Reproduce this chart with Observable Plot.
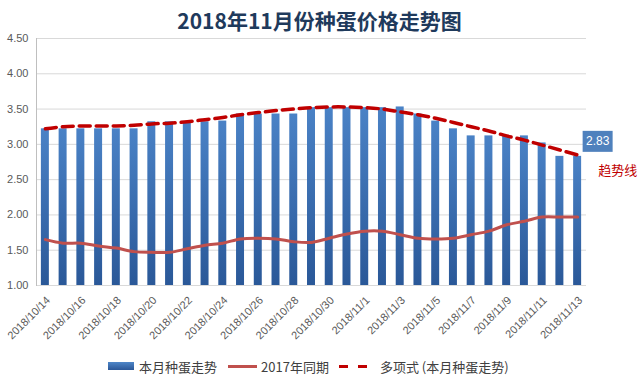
<!DOCTYPE html>
<html>
<head>
<meta charset="utf-8">
<script src="https://cdn.jsdelivr.net/npm/d3@7"></script>
<script src="https://cdn.jsdelivr.net/npm/@observablehq/plot@0.6"></script>
<style>
  body { margin: 0; background: #fff; }
  #wrap { width: 639px; height: 386px; overflow: hidden; position: relative; }
  #title { height: 30px; line-height: 40px; text-align: center; font-family: "Noto Sans CJK SC", sans-serif; font-weight: bold; font-size: 21px; color: #1f3a5c; white-space: nowrap; }
  #chart svg { display: block; }
  #legend { height: 36px; display: flex; align-items: center; padding-left: 108px; font-family: "Noto Sans CJK SC", sans-serif; font-size: 13px; color: #404040; white-space: nowrap; margin-top: -2px; }
  .sw-bar { width: 26px; height: 8px; background: linear-gradient(#4e86c8, #2b5797); margin-right: 5px; }
  .sw-line { width: 29px; height: 3px; background: #c0504d; margin-left: 11px; margin-right: 4px; }
  .sw-dash { width: 28px; height: 3px; margin-left: 10px; margin-right: 13px; background: linear-gradient(to right, #c00000 0 9px, transparent 9px 19px, #c00000 19px 28px); }
</style>
</head>
<body>
<div id="wrap">
  <div id="title">2018年11月份种蛋价格走势图</div>
  <div id="chart"></div>
  <div id="legend">
    <span class="sw-bar"></span><span>本月种蛋走势</span>
    <span class="sw-line"></span><span>2017年同期</span>
    <span class="sw-dash"></span><span>多项式 (本月种蛋走势)</span>
  </div>
</div>
<script>
const dates = [
  "2018/10/14","2018/10/15","2018/10/16","2018/10/17","2018/10/18","2018/10/19","2018/10/20",
  "2018/10/21","2018/10/22","2018/10/23","2018/10/24","2018/10/25","2018/10/26","2018/10/27",
  "2018/10/28","2018/10/29","2018/10/30","2018/10/31","2018/11/1","2018/11/2","2018/11/3",
  "2018/11/4","2018/11/5","2018/11/6","2018/11/7","2018/11/8","2018/11/9","2018/11/10",
  "2018/11/11","2018/11/12","2018/11/13"
];
const price2018 = [
  3.22,3.22,3.22,3.22,3.22,3.22,3.32,
  3.32,3.32,3.32,3.33,3.43,3.43,3.43,
  3.43,3.52,3.52,3.52,3.52,3.52,3.53,
  3.43,3.33,3.22,3.12,3.12,3.12,3.12,
  3.02,2.83,2.83
];
const price2017 = [
  1.65,1.60,1.60,1.56,1.53,1.48,1.47,
  1.47,1.52,1.57,1.60,1.66,1.67,1.66,
  1.62,1.61,1.67,1.73,1.77,1.77,1.72,
  1.67,1.66,1.67,1.72,1.77,1.86,1.91,
  1.97,1.97,1.97
];
const trend = [
  3.22,3.25,3.26,3.26,3.26,3.27,3.29,
  3.30,3.32,3.35,3.38,3.42,3.45,3.48,
  3.50,3.52,3.53,3.53,3.52,3.50,3.46,
  3.42,3.37,3.31,3.25,3.19,3.12,3.06,
  2.99,2.92,2.85
];
const yTicks = [1.00,1.50,2.00,2.50,3.00,3.50,4.00,4.50];
const xTickLabels = dates.filter((d, i) => i % 2 === 0);

const data = dates.map((d, i) => ({date: d, v: price2018[i], v17: price2017[i], t: trend[i]}));
const last = [data[data.length - 1]];

const boxSymbol = { draw(ctx) { ctx.rect(-15, -10.5, 30, 21); } };

const chart = Plot.plot({
  width: 639,
  height: 320,
  marginTop: 8,
  marginLeft: 36,
  marginRight: 53,
  marginBottom: 65,
  style: { fontFamily: "'Liberation Sans', Arial, sans-serif", fontSize: "11px", color: "#595959", background: "transparent" },
  x: { domain: dates, paddingInner: 0.55, paddingOuter: 0.275, round: false, label: null },
  y: { domain: [1, 4.5], label: null },
  marks: [
    Plot.gridY(yTicks, { stroke: "#d9d9d9", strokeOpacity: 1 }),
    Plot.barY(data, { x: "date", y1: 1, y2: "v", fill: "url(#barGrad)" }),
    Plot.frame({ anchor: "left", stroke: "#bfbfbf" }),
    Plot.axisY({ ticks: yTicks, tickFormat: d => d.toFixed(2), tickSize: 0, tickPadding: 8, label: null }),
    Plot.axisX({ ticks: xTickLabels, tickRotate: -45, tickSize: 0, tickPadding: 13, dx: 3, label: null }),
    Plot.line(data, { x: "date", y: "v17", stroke: "#c0504d", strokeWidth: 3, curve: "catmull-rom" }),
    Plot.line(data, { x: "date", y: "t", stroke: "#c00000", strokeWidth: 3.5, strokeDasharray: "11,6", curve: "catmull-rom" }),
    Plot.dot(last, { x: "date", y: "v", symbol: boxSymbol, fill: "#4f81bd", stroke: null, dx: 20, dy: -15 }),
    Plot.text(last, { x: "date", y: "v", text: d => d.v.toFixed(2), fill: "white", fontSize: 12, dx: 20, dy: -15 }),
    Plot.text(last, { x: "date", y: "v", text: () => "趋势线", fill: "#c00000", fontSize: 13, fontFamily: "Noto Sans CJK SC", dx: 40, dy: 14 })
  ]
});

const ns = "http://www.w3.org/2000/svg";
const defs = document.createElementNS(ns, "defs");
const grad = document.createElementNS(ns, "linearGradient");
grad.setAttribute("id", "barGrad");
grad.setAttribute("x1", "0"); grad.setAttribute("y1", "0");
grad.setAttribute("x2", "0"); grad.setAttribute("y2", "1");
[["0%", "#4a82c6"], ["100%", "#2a5898"]].forEach(([o, c]) => {
  const s = document.createElementNS(ns, "stop");
  s.setAttribute("offset", o); s.setAttribute("stop-color", c);
  grad.appendChild(s);
});
defs.appendChild(grad);
chart.insertBefore(defs, chart.firstChild);
document.getElementById("chart").appendChild(chart);
</script>
</body>
</html>
